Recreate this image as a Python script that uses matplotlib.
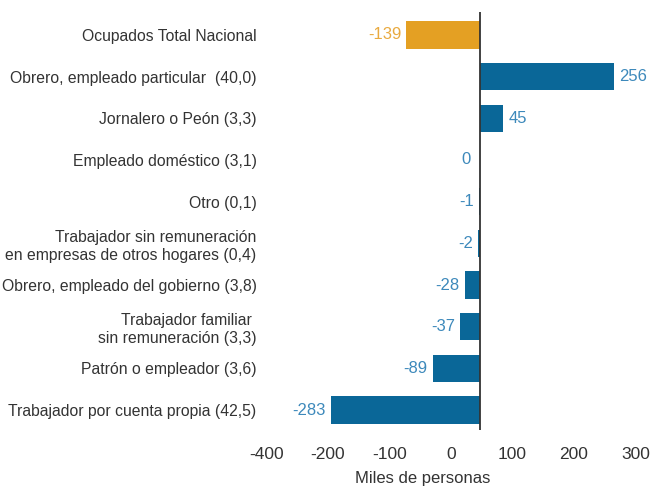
import matplotlib
matplotlib.use("Agg")
import matplotlib.pyplot as plt

categories = [
    "Ocupados Total Nacional",
    "Obrero, empleado particular  (40,0)",
    "Jornalero o Peón (3,3)",
    "Empleado doméstico (3,1)",
    "Otro (0,1)",
    "Trabajador sin remuneración\nen empresas de otros hogares (0,4)",
    "Obrero, empleado del gobierno (3,8)",
    "Trabajador familiar \nsin remuneración (3,3)",
    "Patrón o empleador (3,6)",
    "Trabajador por cuenta propia (42,5)",
]
values = [-139, 256, 45, 0, -1, -2, -28, -37, -89, -283]
tick_positions = [-300, -200, -100, 0, 100, 200, 300]
tick_labels = ["-400", "-200", "-100", "0", "100", "200", "300"]
xlabel = "Miles de personas"

plt.rcParams["font.family"] = ["Liberation Sans", "DejaVu Sans"]

W, H = 650, 486
fig = plt.figure(figsize=(W / 100, H / 100), dpi=100)

left_px, right_px, top_px, bot_px = 262, 645, 12, 430
ax = fig.add_axes([left_px / W, 1 - bot_px / H, (right_px - left_px) / W, (bot_px - top_px) / H])

zero_px = 479.5
bar_scale = 0.526
ax.set_xlim((left_px - zero_px) / bar_scale, (right_px - zero_px) / bar_scale)
row_px = 41.67
ax.set_ylim(9 + (bot_px - 410) / row_px, -(35 - top_px) / row_px)

blue = "#0a6798"
orange = "#e4a023"
blue_txt = "#3d89bb"
orange_txt = "#e9aa40"

ys = list(range(len(values)))
colors = [orange] + [blue] * (len(values) - 1)
ax.barh(ys, values, height=0.65, color=colors, edgecolor="none", zorder=2)
ax.axvline(0, color="#333333", lw=1.3, zorder=3)

fs = 11.3
for y, v, c in zip(ys, values, colors):
    tc = orange_txt if c == orange else blue_txt
    off = 5 / bar_scale
    if v > 0:
        ax.text(v + off, y, str(v), ha="left", va="center", color=tc, fontsize=12)
    else:
        ax.text(v - off - (4 / bar_scale if v == 0 else 0), y, str(v), ha="right", va="center", color=tc, fontsize=12)

ax.set_yticks(ys)
ax.set_yticklabels(categories, fontsize=fs, color="#333333", linespacing=1.25)
ax.tick_params(axis="y", length=0, pad=4)
ax.set_xticks([])
for s in ax.spines.values():
    s.set_visible(False)

ax2 = ax.twiny()
tick_zero = 451
tick_scale = 0.615
ax2.set_xlim((left_px - tick_zero) / tick_scale, (right_px - tick_zero) / tick_scale)
ax2.xaxis.set_ticks_position("bottom")
ax2.xaxis.set_label_position("bottom")
ax2.set_xticks(tick_positions)
ax2.set_xticklabels(tick_labels, fontsize=12.5, color="#333333")
ax2.tick_params(axis="x", length=0, pad=12)
for s in ax2.spines.values():
    s.set_visible(False)

fig.text(423 / W, 1 - 478 / H, xlabel, ha="center", va="center", fontsize=12, color="#333333")

fig.savefig("out.png", dpi=100)
